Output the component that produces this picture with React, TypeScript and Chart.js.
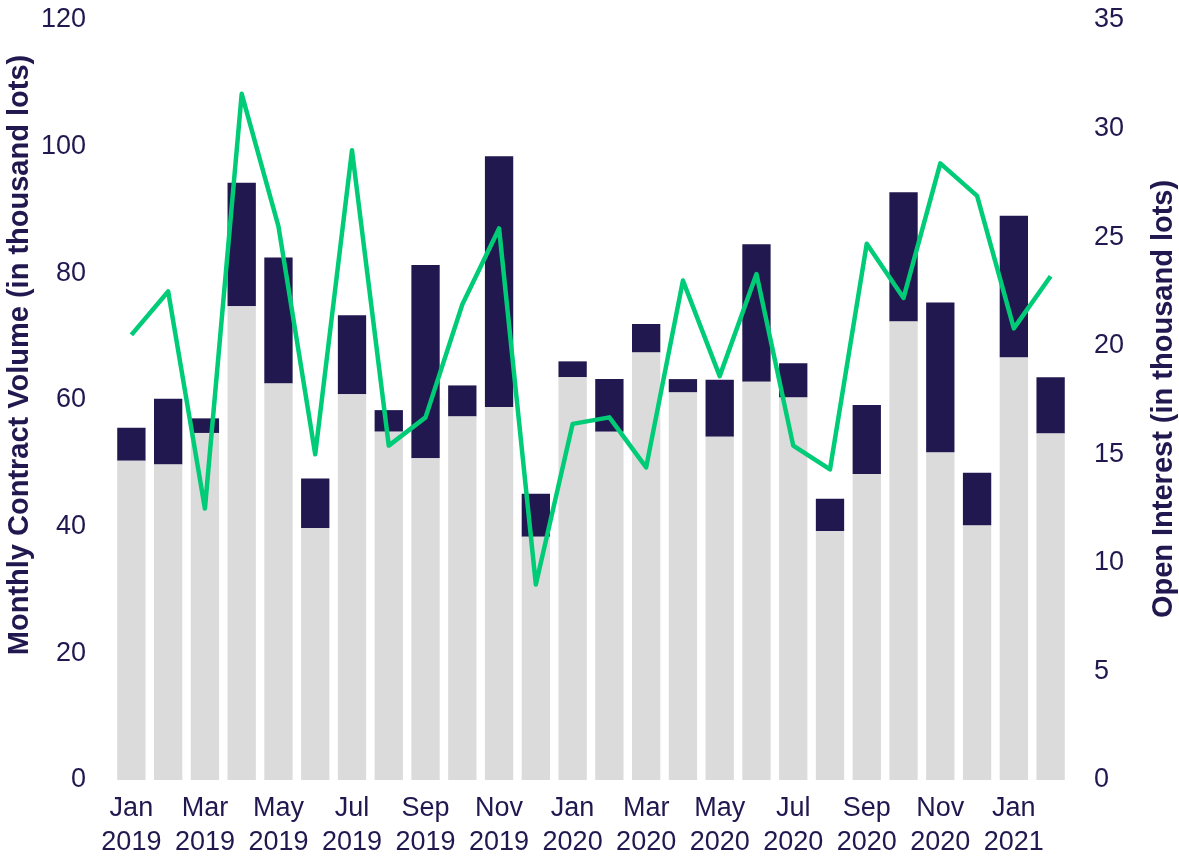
import React, { useEffect, useRef } from 'react';
import { Chart, registerables } from 'chart.js';

Chart.register(...registerables);

const categories = [
  'Jan 2019', 'Feb 2019', 'Mar 2019', 'Apr 2019', 'May 2019', 'Jun 2019',
  'Jul 2019', 'Aug 2019', 'Sep 2019', 'Oct 2019', 'Nov 2019', 'Dec 2019',
  'Jan 2020', 'Feb 2020', 'Mar 2020', 'Apr 2020', 'May 2020', 'Jun 2020',
  'Jul 2020', 'Aug 2020', 'Sep 2020', 'Oct 2020', 'Nov 2020', 'Dec 2020',
  'Jan 2021', 'Feb 2021',
];

// lower (light grey) part of each monthly volume bar, thousand lots
const baseVolume = [
  50.4, 49.8, 54.8, 74.8, 62.6, 39.8, 60.9, 55.0, 50.8, 57.4, 58.9, 38.4,
  63.6, 55.0, 67.5, 61.2, 54.2, 62.9, 60.4, 39.3, 48.3, 72.4, 51.7, 40.2,
  66.7, 54.7,
];

// upper (navy) part of each monthly volume bar, thousand lots
const extraVolume = [
  5.2, 10.4, 2.3, 19.5, 19.9, 7.8, 12.5, 3.4, 30.5, 4.9, 39.6, 6.8,
  2.5, 8.3, 4.5, 2.1, 9.0, 21.7, 5.4, 5.1, 10.9, 20.4, 23.7, 8.3,
  22.4, 8.9,
];

// open interest, thousand lots (right axis)
const openInterest = [
  20.5, 22.5, 12.5, 31.6, 25.5, 15.0, 29.0, 15.4, 16.7, 21.9, 25.4, 9.0,
  16.4, 16.7, 14.4, 23.0, 18.6, 23.3, 15.4, 14.3, 24.7, 22.2, 28.4, 26.9,
  20.8, 23.2,
];

const volumeAxisMax = 120;
const volumeAxisStep = 20;
const oiAxisMax = 35;
const oiAxisStep = 5;

const leftTitle = 'Monthly Contract Volume (in thousand lots)';
const rightTitle = 'Open Interest (in thousand lots)';

const NAVY = '#20184F';
const GRAY = '#DBDBDB';
const GREEN = '#00CC78';
const FONT = "'Liberation Sans', Arial, sans-serif";

const axisTitlesPlugin = {
  id: 'axisTitles',
  afterDraw(chart: any) {
    const ctx = chart.ctx as CanvasRenderingContext2D;
    ctx.save();
    ctx.fillStyle = NAVY;
    ctx.font = `bold 29px ${FONT}`;
    ctx.textAlign = 'center';
    ctx.textBaseline = 'alphabetic';
    const draw = (text: string, x: number, y: number) => {
      ctx.save();
      ctx.translate(x, y);
      ctx.rotate(-Math.PI / 2);
      ctx.fillText(text, 0, 0);
      ctx.restore();
    };
    draw(leftTitle, 28, 355);
    draw(rightTitle, 1172, 399);
    ctx.restore();
  },
};

export default function App() {
  const canvasRef = useRef<HTMLCanvasElement | null>(null);

  useEffect(() => {
    const canvas = canvasRef.current;
    if (!canvas) return;
    const tickFont = { family: FONT, size: 27, lineHeight: 1.22 };
    const xTickFont = { family: FONT, size: 27, lineHeight: 1.24 };
    const chart = new Chart(canvas, {
      type: 'bar',
      data: {
        labels: categories,
        datasets: [
          {
            type: 'line',
            label: 'Open Interest',
            data: openInterest,
            yAxisID: 'y1',
            borderColor: GREEN,
            backgroundColor: GREEN,
            borderWidth: 4.5,
            pointRadius: 0,
            tension: 0,
            borderJoinStyle: 'round',
            fill: false,
            order: 0,
          } as any,
          {
            type: 'bar',
            label: 'Volume (base)',
            data: baseVolume,
            backgroundColor: GRAY,
            yAxisID: 'y',
            stack: 'volume',
            order: 1,
          },
          {
            type: 'bar',
            label: 'Volume (additional)',
            data: extraVolume,
            backgroundColor: NAVY,
            yAxisID: 'y',
            stack: 'volume',
            order: 1,
          },
        ],
      },
      options: {
        animation: false,
        responsive: true,
        maintainAspectRatio: false,
        layout: { padding: { top: 20, left: 0, right: 0, bottom: 0 } },
        plugins: {
          legend: { display: false },
          tooltip: { enabled: false },
        },
        datasets: {
          bar: { categoryPercentage: 1, barPercentage: 0.77 },
        },
        scales: {
          x: {
            stacked: true,
            grid: { display: false, drawTicks: false },
            border: { display: false },
            ticks: {
              autoSkip: false,
              maxRotation: 0,
              minRotation: 0,
              padding: 12,
              color: NAVY,
              font: xTickFont,
              callback: (_v: any, i: number) =>
                i % 2 === 0 ? categories[i].split(' ') : '',
            },
            afterFit: (s: any) => {
              s.height = 78;
              s.paddingLeft = 0;
              s.paddingRight = 0;
            },
          },
          y: {
            stacked: true,
            position: 'left',
            min: 0,
            max: volumeAxisMax,
            grid: { display: false, drawTicks: false },
            border: { display: false },
            ticks: { stepSize: volumeAxisStep, padding: 27, color: NAVY, font: tickFont },
            afterFit: (s: any) => {
              s.width = 113;
              s.paddingTop = 0;
              s.paddingBottom = 0;
            },
          },
          y1: {
            position: 'right',
            min: 0,
            max: oiAxisMax,
            grid: { display: false, drawTicks: false },
            border: { display: false },
            ticks: { stepSize: oiAxisStep, padding: 25, color: NAVY, font: tickFont },
            afterFit: (s: any) => {
              s.width = 110;
              s.paddingTop = 0;
              s.paddingBottom = 0;
            },
          },
        },
      } as any,
      plugins: [axisTitlesPlugin],
    });
    return () => chart.destroy();
  }, []);

  return (
    <div
      style={{
        position: 'fixed',
        left: 0,
        top: 0,
        width: '1179px',
        height: '858px',
        background: '#ffffff',
      }}
    >
      <canvas ref={canvasRef} />
    </div>
  );
}
